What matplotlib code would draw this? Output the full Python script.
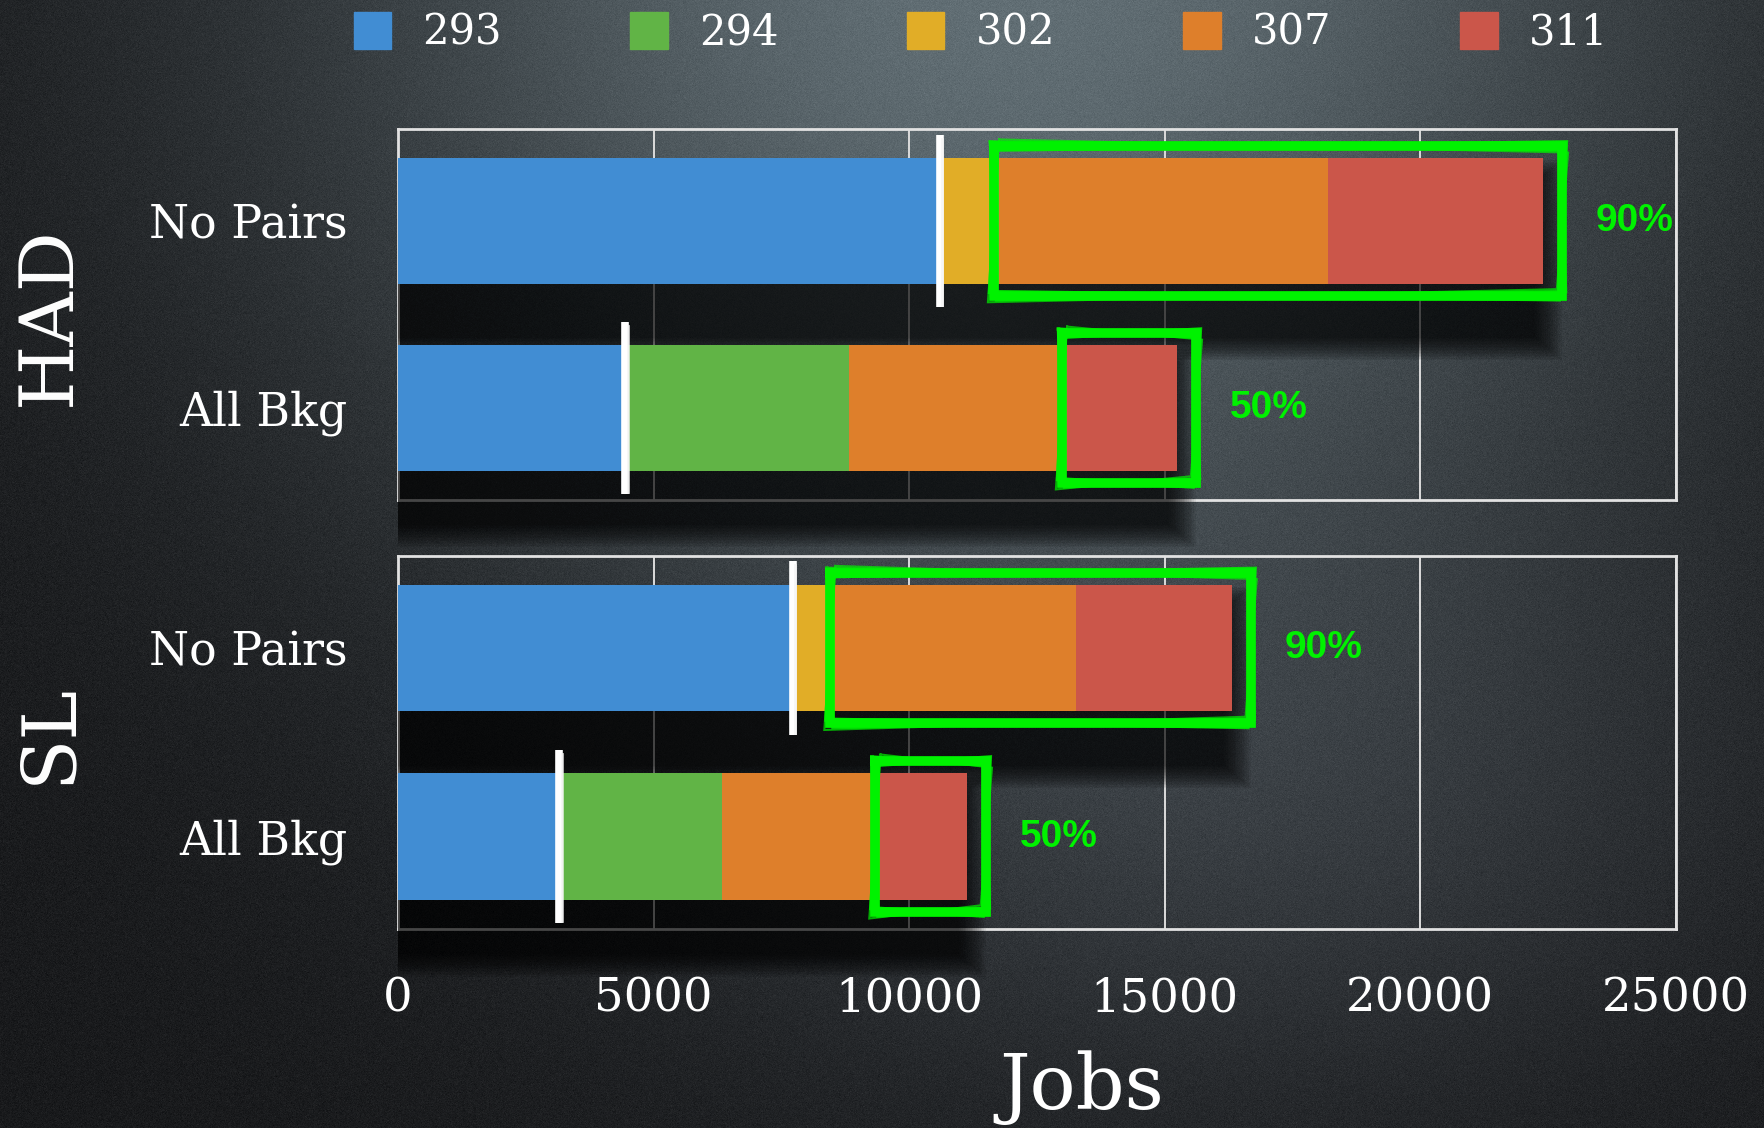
import numpy as np
import matplotlib.pyplot as plt
from matplotlib.patches import Rectangle

samples = ["293", "294", "302", "307", "311"]
sample_colors = ["#418dd3", "#61b446", "#e1ad27", "#de7f2b", "#cb564a"]
categories = ["No Pairs", "All Bkg"]

# jobs per sample; rows follow `categories`, columns follow `samples`
had_jobs = [[10600, 0, 1150, 6440, 4210],
            [4450, 4370, 0, 4260, 2160]]
sl_jobs = [[7720, 0, 830, 4710, 3050],
           [3160, 3170, 0, 3100, 1700]]

# first sample inside the green box for each row, and the note beside it
box_start = [3, 4]
box_notes = ["90%", "50%"]

x_ticks = [0, 5000, 10000, 15000, 20000, 25000]

SERIF = "DejaVu Serif"
GREEN = "#00f200"
BAR_H = 0.67

W, H = 1764, 1128
fig = plt.figure(figsize=(W / 100, H / 100), dpi=100)

# ---- chalkboard background ----
bg = fig.add_axes([0, 0, 1, 1], zorder=-5)
yy, xx = np.mgrid[0:H, 0:W]
xx = xx / W
yy = yy / H
glow = np.exp(-(((xx - 0.57) / 0.40) ** 2 + ((yy + 0.05) / 0.62) ** 2))
glow2 = np.exp(-(((xx - 0.72) / 0.30) ** 2 + ((yy - 0.72) / 0.30) ** 2))
base = np.array([24, 25, 27]) / 255
img = base + glow[..., None] * (np.array([74, 86, 90]) / 255) \
    + glow2[..., None] * (np.array([20, 22, 24]) / 255)
rng = np.random.default_rng(7)
img = img + rng.normal(0, 0.014, (H, W, 1))
bg.imshow(np.clip(img, 0, 1), extent=[0, 1, 0, 1], aspect="auto")
bg.axis("off")


def shadow(ax, y, total):
    # soft drop shadow below a bar, built from stacked translucent boxes
    n = 16
    for k in range(n):
        g = k / (n - 1)
        px = 30 + 520 * g
        py = 0.01 + 0.12 * g
        ax.add_patch(Rectangle((0, y - BAR_H / 2 + 0.14 - py),
                               total - 180 + px,
                               BAR_H + 0.14 + 2 * py,
                               color="black", alpha=0.066, lw=0,
                               zorder=2.7, clip_on=False))


def chalk(ax, x, y):
    ax.plot([x, x], [y - 0.46, y + 0.46], color="white", lw=5.5,
            solid_capstyle="butt", zorder=4, clip_on=False)
    ax.plot([x + 45, x + 45], [y - 0.44, y + 0.45], color="#f4f4f4",
            lw=2, alpha=0.8, zorder=4, clip_on=False)


def scribble_box(ax, x0, x1, y0, y1):
    # brush-like rectangle: one heavy pass plus lighter offset passes
    passes = [(0, 0.0, 7.0, 1.0), (70, 0.02, 3.0, 0.85),
              (-60, -0.022, 2.5, 0.8), (110, -0.035, 1.5, 0.7)]
    for dx, dy, lw, a in passes:
        xs = [x0 + dx, x1 + dx, x1 - dx, x0 - dx, x0 + dx]
        ys = [y0 + dy, y0 - dy, y1 + dy, y1 - dy, y0 + dy]
        ax.plot(xs, ys, color=GREEN, lw=lw, alpha=a, zorder=5,
                solid_joinstyle="miter", clip_on=False)


panels = [
    ("HAD", had_jobs, [0.2256, 0.5570, 0.7245, 0.3285], 0.720),
    ("SL", sl_jobs, [0.2256, 0.1765, 0.7245, 0.3310], 0.350),
]

for name, jobs, rect, label_y in panels:
    ax = fig.add_axes(rect)
    ax.patch.set_alpha(0)
    for i, row in enumerate(jobs):
        total = sum(row)
        shadow(ax, i, total)
        left = 0
        for j, v in enumerate(row):
            ax.barh(i, v, left=left, height=BAR_H, color=sample_colors[j], zorder=3)
            left += v
        chalk(ax, row[0], i)
        x0 = sum(row[:box_start[i]]) - 100
        scribble_box(ax, x0, total + 380, i - 0.40, i + 0.40)
        ax.annotate(box_notes[i], xy=(total, i), xytext=(38, 0),
                    textcoords="offset points", ha="left", va="center",
                    color=GREEN, fontsize=28, fontweight="bold",
                    family="Liberation Sans", zorder=6)

    ax.set_xlim(0, 25000)
    ax.set_ylim(1.49, -0.49)
    ax.set_xticks(x_ticks)
    ax.set_yticks([0, 1])
    ax.set_yticklabels(categories, family=SERIF, fontsize=33, color="white")
    ax.tick_params(length=0)
    ax.tick_params(axis="y", pad=36)
    ax.tick_params(axis="x", pad=34, labelsize=33.5, labelcolor="white")
    for t in ax.get_xticklabels():
        t.set_family(SERIF)
    ax.grid(axis="x", color="#dcdcdc", lw=1.4)
    ax.grid(axis="y", visible=False)
    ax.set_axisbelow(True)
    for s in ax.spines.values():
        s.set_color("#e2e2e2")
        s.set_linewidth(2)
    if name == "HAD":
        ax.tick_params(labelbottom=False)

    fig.text(0.028, label_y, name, rotation=90, ha="center", va="center",
             family=SERIF, fontsize=54, color="white")

fig.text(0.613, 0.036, "Jobs", ha="center", va="center", family=SERIF,
         fontsize=55, color="white")

handles = [Rectangle((0, 0), 1, 1, color=c) for c in sample_colors]
fig.legend(handles, samples, loc="center", bbox_to_anchor=(0.556, 0.971),
           ncol=5, frameon=False, prop={"family": SERIF, "size": 30},
           labelcolor="white", handlelength=0.9, handleheight=1.0,
           handletextpad=0.75, columnspacing=3.08)

fig.savefig("out.png", dpi=100)
